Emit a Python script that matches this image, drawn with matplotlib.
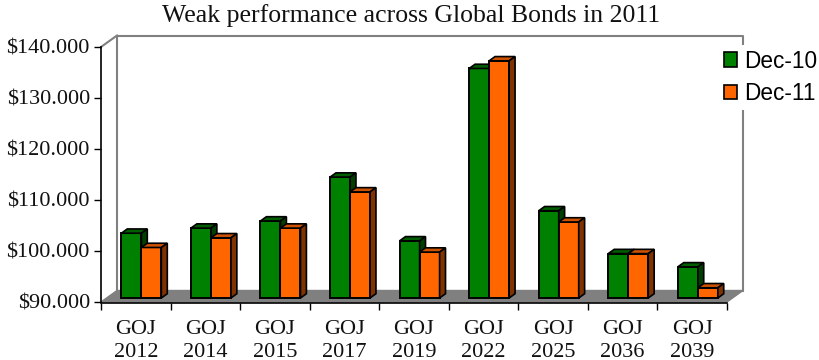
import matplotlib
matplotlib.use("Agg")
import matplotlib.pyplot as plt
from matplotlib.patches import Polygon, Patch
from matplotlib.ticker import FuncFormatter

# ---- data ----
categories = ["GOJ\n2012", "GOJ\n2014", "GOJ\n2015", "GOJ\n2017", "GOJ\n2019",
              "GOJ\n2022", "GOJ\n2025", "GOJ\n2036", "GOJ\n2039"]
dec10 = [102.7, 103.7, 105.1, 113.7, 101.2, 135.0, 107.1, 98.7, 96.1]
dec11 = [99.9, 101.8, 103.7, 110.8, 99.0, 136.5, 104.9, 98.7, 92.0]
series_names = ["Dec-10", "Dec-11"]
y_ticks = [90, 100, 110, 120, 130, 140]
title = "Weak performance across Global Bonds in 2011"

# ---- style ----
W, H = 819, 360
front = ["#008000", "#FF6600"]
tops = ["#005E00", "#CC5200"]
sides = ["#003F00", "#803300"]
wall = "#808080"
serif = ["Liberation Serif", "DejaVu Serif"]
sans = ["Liberation Sans", "DejaVu Sans"]

fig = plt.figure(figsize=(W / 100, H / 100), dpi=100)
x0px, x1px, y0px, y1px = 101, 727, 302, 47
ax = fig.add_axes([x0px / W, (H - y0px) / H, (x1px - x0px) / W, (y0px - y1px) / H])
n = len(categories)
ax.set_xlim(0, n)
ax.set_ylim(y_ticks[0], y_ticks[-1])

px_x = (x1px - x0px) / n                    # pixels per category
px_y = (y0px - y1px) / (y_ticks[-1] - y_ticks[0])  # pixels per value unit
Dx = 16 / px_x      # depth offset in data units
Dy = 11.5 / px_y
ymin, ymax = y_ticks[0], y_ticks[-1]

def poly(pts, fc, ec, lw, z):
    p = Polygon(pts, closed=True, facecolor=fc, edgecolor=ec, linewidth=lw,
                clip_on=False, zorder=z, joinstyle="miter")
    ax.add_patch(p)

# back wall and side lines
ax.plot([Dx, Dx, n + Dx, n + Dx], [ymin + Dy, ymax + Dy, ymax + Dy, ymin + Dy],
        color=wall, lw=1.5, clip_on=False, zorder=1)
ax.plot([0, Dx], [ymax, ymax + Dy], color=wall, lw=1.5, clip_on=False, zorder=1)
# floor
poly([(0, ymin), (n, ymin), (n + Dx, ymin + Dy), (Dx, ymin + Dy)], wall, wall, 1.0, 2)

# bars
w = 0.2875
f0, f1 = 0.35, 0.72
for i in range(n):
    for s, vals in enumerate([dec10, dec11]):
        v = vals[i]
        xa = i + 0.5 - w + s * w + f0 * Dx
        xb = xa + w
        ya = ymin + f0 * Dy
        yb = v + f0 * Dy
        ddx = (f1 - f0) * Dx
        ddy = (f1 - f0) * Dy
        z = 3 + i * 0.1 + s * 0.01
        poly([(xa, ya), (xb, ya), (xb, yb), (xa, yb)], front[s], "black", 1.4, z)
        poly([(xa, yb), (xb, yb), (xb + ddx, yb + ddy), (xa + ddx, yb + ddy)], tops[s], "black", 1.2, z)
        poly([(xb, ya), (xb + ddx, ya + ddy), (xb + ddx, yb + ddy), (xb, yb)], sides[s], "black", 1.2, z)

# axes styling
for sp in ["top", "right"]:
    ax.spines[sp].set_visible(False)
ax.spines["left"].set_color("black")
ax.spines["bottom"].set_color("black")
ax.spines["left"].set_linewidth(1.2)
ax.spines["bottom"].set_linewidth(1.2)
ax.spines["bottom"].set_position(("outward", 1))
ax.patch.set_alpha(0)

ax.set_yticks(y_ticks)
ax.yaxis.set_major_formatter(FuncFormatter(lambda v, p: "${:d}.000".format(int(round(v)))))
ax.tick_params(axis="y", direction="out", length=5, width=1, pad=3)
ax.set_xticks(range(n + 1))
ax.set_xticklabels([])
ax.tick_params(axis="x", which="major", direction="out", length=5, width=1)
ax.set_xticks([i + 0.5 for i in range(n)], minor=True)
ax.set_xticklabels(categories, minor=True, linespacing=1.25)
ax.tick_params(axis="x", which="minor", length=0, pad=12)
for lab in ax.get_yticklabels() + ax.get_xticklabels(minor=True):
    lab.set_fontfamily(serif)
    lab.set_fontsize(16)
    lab.set_color("#111111")

fig.text(0.502, 1 - 16 / H, title, ha="center", va="center", fontsize=18.5,
         family=serif, color="#111111")

handles = [Patch(facecolor=front[k], edgecolor="black", linewidth=1.2) for k in range(2)]
fig.legend(handles, series_names, loc="upper left",
           bbox_to_anchor=(719 / W, 1 - 45 / H), frameon=True, facecolor="white",
           edgecolor="none", framealpha=1, prop={"family": sans, "size": 16.3},
           handlelength=0.58, handleheight=0.58, handletextpad=0.35,
           labelspacing=0.42, borderpad=0.2, borderaxespad=0, fancybox=False)

fig.savefig("out.png", dpi=100)
